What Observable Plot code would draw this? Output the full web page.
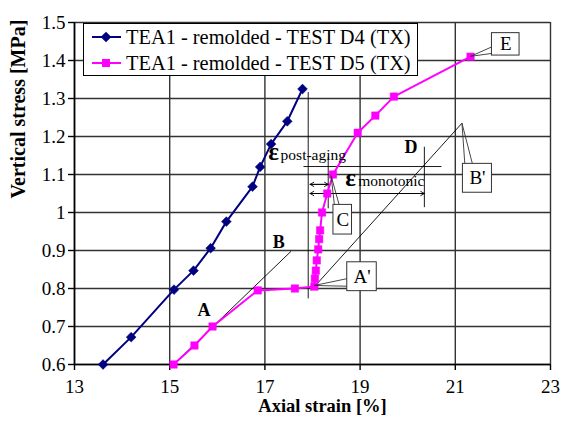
<!DOCTYPE html>
<html>
<head>
<meta charset="utf-8">
<script src="https://cdn.jsdelivr.net/npm/d3@7"></script>
<script src="https://cdn.jsdelivr.net/npm/@observablehq/plot@0.6"></script>
<style>
  body { margin: 0; background: #fff; }
  #chart { position: relative; width: 562px; height: 421px; font-family: "Liberation Serif", "Times New Roman", serif; }
  #chart svg { font-family: "Liberation Serif", "Times New Roman", serif; }
  #legend { position: absolute; left: 83px; top: 23px; width: 335px; height: 53px; background: #fff; border: 1px solid #000; box-sizing: border-box; }
  .row { position: absolute; left: 8px; height: 24px; display: flex; align-items: center; font-size: 20.4px; white-space: nowrap; }
  .row svg { margin-right: 5px; }
</style>
</head>
<body>
<div id="chart"></div>
<script>
// Triaxial tests on remolded TEA1 material
const seriesNames = ["TEA1 - remolded - TEST D4 (TX)", "TEA1 - remolded - TEST D5 (TX)"];
const d4Strain = [13.6, 14.19, 15.09, 15.5, 15.86, 16.19, 16.74, 16.9, 17.13, 17.47, 17.79];
const d4Stress = [0.6, 0.672, 0.797, 0.847, 0.906, 0.976, 1.068, 1.12, 1.18, 1.24, 1.325];
const d5Strain = [15.08, 15.52, 15.9, 16.85, 17.63, 18.04, 18.05, 18.07, 18.09, 18.12, 18.14, 18.16, 18.2, 18.31, 18.43, 18.95, 19.32, 19.71, 21.32];
const d5Stress = [0.6, 0.65, 0.7, 0.795, 0.8, 0.805, 0.826, 0.847, 0.874, 0.903, 0.93, 0.953, 1.0, 1.05, 1.1, 1.21, 1.255, 1.305, 1.41];

const xTicks = [13, 15, 17, 19, 21, 23];
const yTicks = [0.6, 0.7, 0.8, 0.9, 1.0, 1.1, 1.2, 1.3, 1.4, 1.5];

// Construction lines (strain %, stress MPa)
const guideX1 = [15.08, 17.97, 17.91, 17.81, 18.33, 20.35];
const guideY1 = [0.6, 0.795, 0.774, 1.121, 1.011, 1.014];
const guideX2 = [17.55, 21.14, 17.91, 20.71, 18.33, 20.35];
const guideY2 = [0.898, 1.235, 1.317, 1.121, 1.147, 1.173];

// Strain increments (double-headed arrows)
const spanFrom = [17.95, 17.95];
const spanTo = [18.33, 20.35];
const spanStress = [1.074, 1.05];

// Point letters
const letterText = ["A", "B", "D"];
const letterX = [15.72, 17.29, 20.07];
const letterY = [0.742, 0.921, 1.172];

// Strain symbols with their subscripts
const epsX = [17.07, 18.69];
const epsY = [1.157, 1.087];
const subText = ["post-aging", "monotonic"];
const subX = [17.33, 18.96];

// Callout boxes: label, box extent, pointed point, pointer base on the box edge
const calloutText = ["C", "A'", "B'", "E"];
const calloutBold = [false, true, true, true];
const boxX1 = [18.44, 18.73, 21.16, 21.77];
const boxX2 = [18.83, 19.35, 21.77, 22.35];
const boxY1 = [0.942, 0.793, 1.052, 1.413];
const boxY2 = [1.02, 0.869, 1.128, 1.472];
const pointX = [18.39, 18.04, 21.14, 21.32];
const pointY = [1.097, 0.808, 1.235, 1.411];
const baseAX = [18.46, 18.73, 21.2, 21.77];
const baseAY = [1.02, 0.826, 1.128, 1.436];
const baseBX = [18.56, 18.73, 21.36, 21.79];
const baseBY = [1.02, 0.806, 1.128, 1.419];

const d4 = d4Strain.map((x, i) => ({x, y: d4Stress[i]}));
const d5 = d5Strain.map((x, i) => ({x, y: d5Stress[i]}));
const guides = guideX1.map((x1, i) => ({x1, y1: guideY1[i], x2: guideX2[i], y2: guideY2[i]}));
const spans = spanFrom.map((a, i) => ({a, b: spanTo[i], y: spanStress[i]}));
const letters = letterText.map((t, i) => ({t, x: letterX[i], y: letterY[i]}));
const eps = epsX.map((x, i) => ({x, y: epsY[i], sx: subX[i], sub: subText[i]}));
const callouts = calloutText.map((t, i) => ({
  t, bold: calloutBold[i],
  x1: boxX1[i], x2: boxX2[i], y1: boxY1[i], y2: boxY2[i],
  px: pointX[i], py: pointY[i],
  ax: baseAX[i], ay: baseAY[i], bx: baseBX[i], by: baseBY[i]
}));

const navy = "#000080";
const magenta = "#ff00ff";

const chart = Plot.plot({
  width: 562,
  height: 421,
  marginLeft: 74,
  marginRight: 12,
  marginTop: 22,
  marginBottom: 57,
  style: {fontSize: "18px", color: "#000", background: "#fff", overflow: "visible"},
  x: {domain: [13, 23]},
  y: {domain: [0.6, 1.5]},
  marks: [
    Plot.ruleX(xTicks, {stroke: "#333", strokeWidth: 1.4}),
    Plot.ruleY(yTicks, {stroke: "#333", strokeWidth: 1.4}),
    Plot.ruleX([13], {stroke: "#000", strokeWidth: 1.6}),
    Plot.ruleY([0.6], {stroke: "#000", strokeWidth: 1.6}),
    Plot.axisX({ticks: xTicks, tickSize: 6, tickPadding: 9, tickFormat: d => String(d), label: null, fontSize: 19, strokeWidth: 1.4}),
    Plot.axisY({ticks: yTicks, tickSize: 6, tickPadding: 3, tickFormat: d => (Math.abs(d - 1) < 1e-9 ? "1" : d.toFixed(1)), label: null, fontSize: 19, strokeWidth: 1.4}),
    Plot.text(["Axial strain [%]"], {frameAnchor: "bottom", text: d => d, dy: 47, dx: 10, fontWeight: "bold", fontSize: 18.5}),
    Plot.text(["Vertical stress [MPa]"], {frameAnchor: "left", text: d => d, rotate: -90, dx: -56, dy: 5, fontWeight: "bold", fontSize: 20}),

    // construction lines
    Plot.link(guides, {x1: "x1", y1: "y1", x2: "x2", y2: "y2", stroke: "#000", strokeWidth: 0.9}),
    Plot.arrow(spans, {x1: "a", y1: "y", x2: "b", y2: "y", stroke: "#000", strokeWidth: 0.9, headLength: 7, bend: 0}),
    Plot.arrow(spans, {x1: "b", y1: "y", x2: "a", y2: "y", stroke: "#000", strokeWidth: 0.9, headLength: 7, bend: 0}),

    // test curves
    Plot.line(d4, {x: "x", y: "y", stroke: navy, strokeWidth: 2}),
    Plot.dot(d4, {x: "x", y: "y", symbol: "square", r: 3.9, rotate: 45, fill: navy, stroke: navy, strokeWidth: 0.5}),
    Plot.line(d5, {x: "x", y: "y", stroke: magenta, strokeWidth: 2}),
    Plot.dot(d5, {x: "x", y: "y", symbol: "square", r: 4.2, fill: magenta, stroke: magenta, strokeWidth: 0.5}),

    // labels
    Plot.text(letters, {x: "x", y: "y", text: "t", fontWeight: "bold", fontSize: 18}),
    Plot.text(eps, {x: "x", y: "y", text: () => "\u03b5", fontWeight: "bold", fontSize: 25, textAnchor: "start", dy: -1}),
    Plot.text(eps, {x: "sx", y: "y", text: "sub", fontSize: 15.5, textAnchor: "start", dy: 2}),

    // callouts
    Plot.link(callouts, {x1: "px", y1: "py", x2: "ax", y2: "ay", stroke: "#333", strokeWidth: 0.9}),
    Plot.link(callouts, {x1: "px", y1: "py", x2: "bx", y2: "by", stroke: "#333", strokeWidth: 0.9}),
    Plot.rect(callouts, {x1: "x1", x2: "x2", y1: "y1", y2: "y2", fill: "#fff", stroke: "#333", strokeWidth: 1}),
    Plot.text(callouts, {x: d => (d.x1 + d.x2) / 2, y: d => (d.y1 + d.y2) / 2, text: "t", fontSize: 19, fontWeight: d => (d.bold ? "bold" : "normal")})
  ]
});

const root = document.getElementById("chart");
root.appendChild(chart);

// legend box
const legend = document.createElement("div");
legend.id = "legend";
const sampleColors = [navy, magenta];
seriesNames.forEach((name, i) => {
  const row = document.createElement("div");
  row.className = "row";
  row.style.top = (i === 0 ? 1 : 27) + "px";
  const marker = i === 0
    ? `<rect x="10.2" y="3.2" width="7.6" height="7.6" transform="rotate(45 14 7)" fill="${navy}"/>`
    : `<rect x="10" y="3" width="8" height="8" fill="${magenta}"/>`;
  row.innerHTML = `<svg width="29" height="14"><line x1="0" y1="7" x2="29" y2="7" stroke="${sampleColors[i]}" stroke-width="2"/>${marker}</svg><span>${name}</span>`;
  legend.appendChild(row);
});
root.appendChild(legend);
</script>
</body>
</html>
